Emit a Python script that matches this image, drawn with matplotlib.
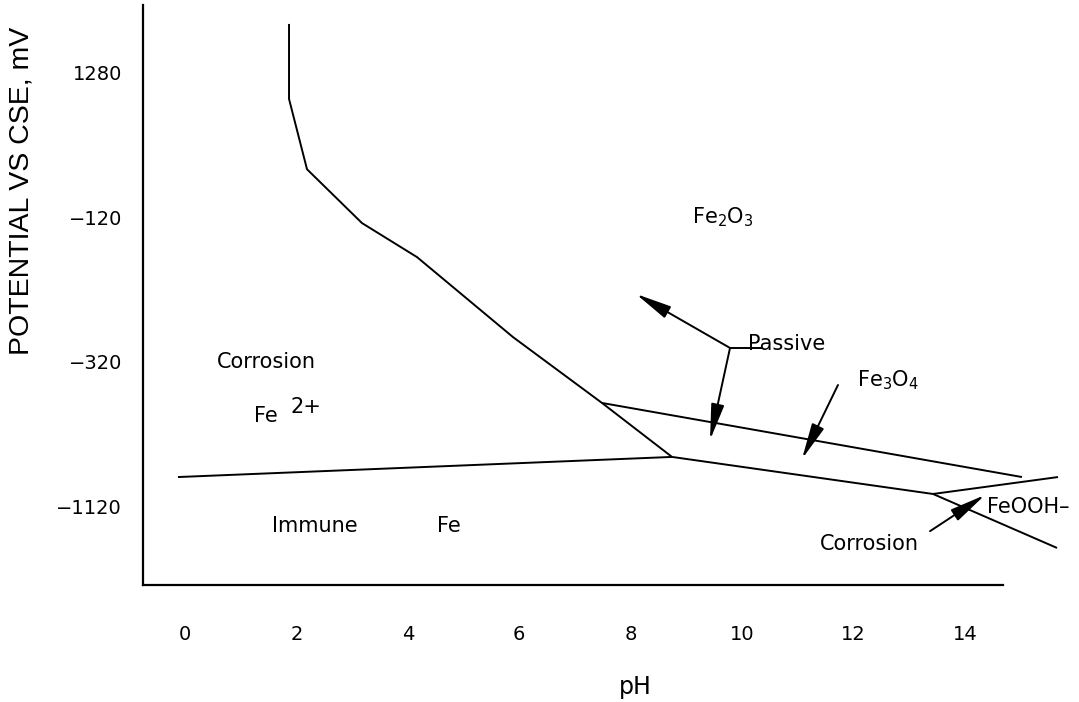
import matplotlib
matplotlib.use("Agg")
import matplotlib.pyplot as plt

# ---- data (pH on x; potential on an ordinal y scale, tick index units) ----
y_tick_pos = [0, 1, 2, 3]
y_tick_labels = ["\u22121120", "\u2212320", "\u2212120", "1280"]
x_ticks = [0, 2, 4, 6, 8, 10, 12, 14]

# Fe2+ / oxide boundary (upper-left curve)
curve_ph = [1.867, 1.867, 2.190, 3.177, 4.164, 5.888, 7.485, 8.742]
curve_e = [3.336, 2.818, 2.332, 1.960, 1.725, 1.172, 0.717, 0.344]

# Fe / Fe2+ boundary (immunity line)
immune_ph = [-0.126, 8.742]
immune_e = [0.205, 0.344]

# Fe3O4 upper boundary
fe3o4_up_ph = [7.485, 15.024]
fe3o4_up_e = [0.717, 0.205]

# Fe3O4 lower boundary continuing to HFeO2- corrosion
fe3o4_low_ph = [8.742, 13.427, 15.653]
fe3o4_low_e = [0.344, 0.088, -0.285]

# FeOOH- branch
feooh_ph = [13.427, 15.671]
feooh_e = [0.088, 0.205]

# annotation arrows: (tail_ph, tail_e, tip_ph, tip_e)
arrow_passive_up = (9.783, 1.097, 8.095, 1.470)
arrow_passive_down = (9.783, 1.097, 9.424, 0.461)
arrow_fe3o4 = (11.721, 0.841, 11.075, 0.330)
arrow_corrosion = (13.373, -0.169, 14.360, 0.081)
passive_underline_ph = [9.783, 10.357]
passive_underline_e = [1.097, 1.097]

fig = plt.figure(figsize=(10.79, 7.02), dpi=100)
ax = fig.add_axes([0.13253, 0.16667, 0.79703, 0.82621])

lw = 1.4
for xs, ys in [(curve_ph, curve_e), (immune_ph, immune_e),
               (fe3o4_up_ph, fe3o4_up_e), (fe3o4_low_ph, fe3o4_low_e),
               (feooh_ph, feooh_e), (passive_underline_ph, passive_underline_e)]:
    ax.plot(xs, ys, color="black", lw=lw, clip_on=False, solid_capstyle="butt")

for (tx, ty, hx, hy) in [arrow_passive_up, arrow_passive_down, arrow_fe3o4, arrow_corrosion]:
    ax.annotate("", xy=(hx, hy), xytext=(tx, ty),
                arrowprops=dict(arrowstyle="-|>,head_length=2.2,head_width=0.4",
                                mutation_scale=10, color="black", lw=lw,
                                shrinkA=0, shrinkB=0),
                annotation_clip=False)

ax.set_xlim(-0.754, 14.683)
ax.set_ylim(-0.541, 3.467)

ax.set_xticks(x_ticks)
ax.set_xticklabels([str(v) for v in x_ticks])
ax.set_yticks(y_tick_pos)
ax.set_yticklabels(y_tick_labels)
ax.tick_params(axis="both", length=0, labelsize=14)
ax.tick_params(axis="y", pad=15)
ax.tick_params(axis="x", pad=28.5)

for s in ["top", "right"]:
    ax.spines[s].set_visible(False)
for s in ["left", "bottom"]:
    ax.spines[s].set_linewidth(1.6)

ax.set_xlabel("pH", fontsize=17, va="top")
ax.xaxis.set_label_coords(0.573, -0.155)
ax.set_ylabel("POTENTIAL VS CSE, mV", fontsize=20.5, family=["Liberation Sans", "DejaVu Sans"])
ax.yaxis.set_label_coords(-0.126, 0.68)

fs = 15
t = dict(fontsize=fs, color="black", ha="left", va="baseline")
ax.text(9.101, 1.959, r"Fe$_2$O$_3$", **t)
ax.text(10.106, 1.083, "Passive", **t)
ax.text(12.063, 0.834, r"Fe$_3$O$_4$", **t)
ax.text(14.396, -0.044, "FeOOH\u2013", clip_on=False, **t)
ax.text(11.398, -0.299, "Corrosion", **t)
ax.text(0.574, 0.959, "Corrosion", **t)
ax.text(1.239, 0.585, "Fe", **t)
ax.text(1.885, 0.648, "2+", **t)
ax.text(1.562, -0.176, "Immune", **t)
ax.text(4.523, -0.176, "Fe", **t)

fig.savefig("out.png", dpi=100, facecolor="white")
